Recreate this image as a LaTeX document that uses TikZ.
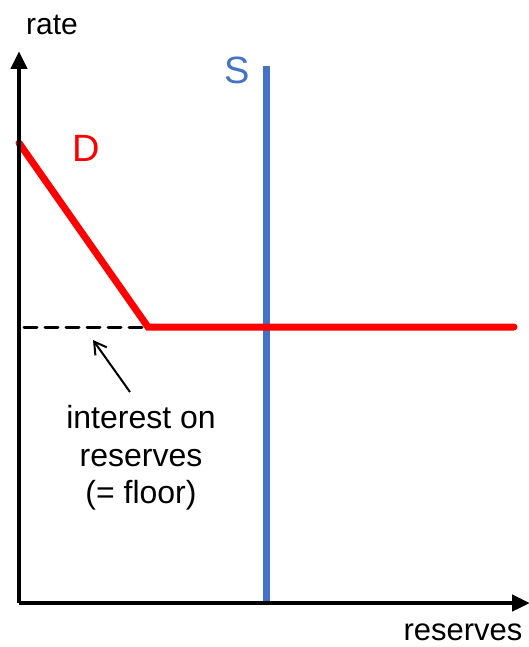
\documentclass[tikz,border=0pt]{standalone}
\usepackage{fontspec}
\setmainfont{Liberation Sans}
\usetikzlibrary{arrows.meta}
\definecolor{sblue}{RGB}{68,114,196}
\definecolor{dred}{RGB}{255,0,0}
\begin{document}
\begin{tikzpicture}[x=1pt,y=-1pt,
  axis/.style={line width=4.5pt,-{Triangle[length=18pt,width=16pt]}},
  curveD/.style={line width=7pt,dred,line cap=round,line join=miter},
  curveS/.style={line width=7pt,sblue},
  floorline/.style={line width=3pt,dash pattern=on 13pt off 8pt,line cap=round},
  lbl/.style={font=\fontsize{32}{37.5}\selectfont,inner sep=0pt,align=center},
  big/.style={font=\fontsize{38}{44}\selectfont,inner sep=0pt}]
\useasboundingbox (0,0) rectangle (529,647);
\coordinate (o) at (19,603);
\coordinate (ytop) at (19,51);
\coordinate (xend) at (530,603);
\coordinate (dtop) at (19,143);
\coordinate (kink) at (148,327);
\coordinate (dend) at (514,327);
\coordinate (fstart) at (24,327);
\coordinate (stop) at (266,66);
\coordinate (sbot) at (266,603);
\draw[curveS] (stop) -- (sbot);
\draw[floorline] (fstart) -- (kink);
\fill (kink) circle (3pt);
\draw[curveD] (dtop) -- (kink) -- (dend);
\draw[axis] (o) -- (ytop);
\draw[axis] (19,603) -- (xend);
\node[lbl,font=\fontsize{30}{36}\selectfont] (rate) at (52,25) {rate};
\node[lbl,font=\fontsize{31}{36}\selectfont] (res) at (463,632) {reserves};
\node[big,text=sblue] (S) at (237,70) {S};
\node[big,text=dred] (D) at (86,148) {D};
\node[lbl] (ior) at (141,458) {interest on\\reserves\\(= floor)};
\coordinate (ptip) at (93,340);
\coordinate (pbase) at (130,392);
\draw[line width=2pt,-{Straight Barb[length=12pt,width=14pt,line width=2pt]}] (pbase) -- (ptip);
\end{tikzpicture}
\end{document}
